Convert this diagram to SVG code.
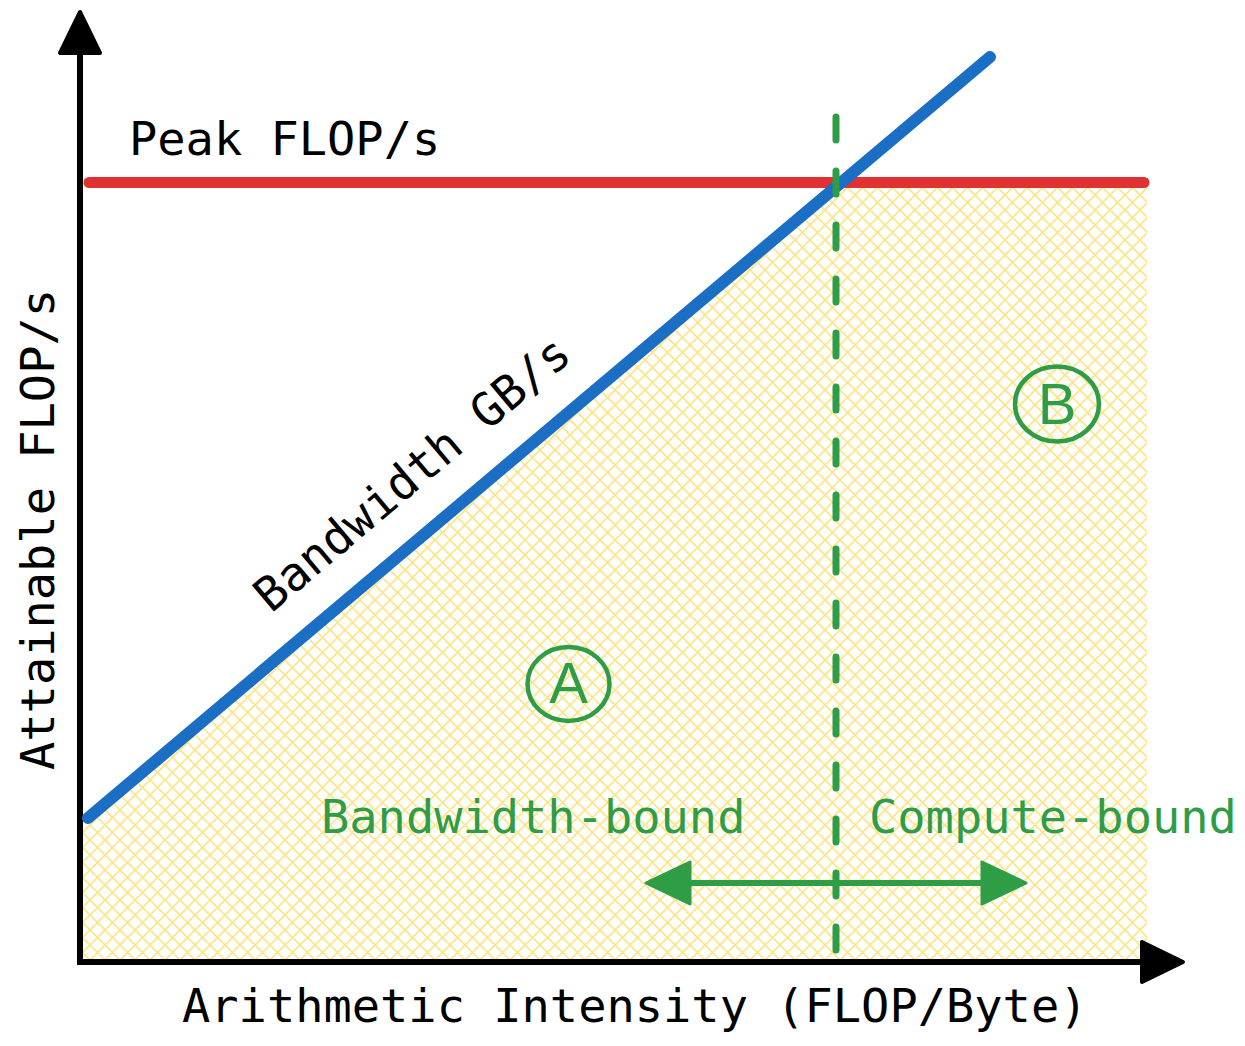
<svg xmlns="http://www.w3.org/2000/svg" width="1245" height="1046" viewBox="0 0 1245 1046">
<style>
.mono{font-family:"DejaVu Sans Mono","Liberation Mono",monospace;font-size:47px}
.blk{fill:#000}
.grn{fill:#2F9D45}
.circ{fill:none;stroke:#2F9D45;stroke-width:4.5}
.letter{font-family:"Liberation Sans","Noto Sans",sans-serif;font-size:58px;fill:#2F9D45;text-anchor:middle}
.axis{stroke:#000;stroke-width:6;fill:none}
.head{fill:#000;stroke:#000;stroke-width:4;stroke-linejoin:round}
.ghead{fill:#2F9D45;stroke:#2F9D45;stroke-width:3;stroke-linejoin:round}
</style>
<defs>
<pattern id="hatch" patternUnits="userSpaceOnUse" width="15" height="15">
<path d="M-2,-2 L17,17 M17,-2 L-2,17" stroke="#FCE58A" stroke-width="1.7" fill="none"/>
</pattern>
</defs>
<rect width="1245" height="1046" fill="#fff"/>
<g id="region">
<polygon points="83,822 840,183 1147,183 1147,960 83,960" fill="url(#hatch)"/>
</g>
<g id="connectors">
<g id="y-axis">
<line class="axis" x1="80" y1="962" x2="80" y2="50"/>
<polygon class="head" points="80,12 60,53 100,53"/>
</g>
<g id="x-axis">
<line class="axis" x1="77" y1="962" x2="1145" y2="962"/>
<polygon class="head" points="1183,962 1142,942 1142,982"/>
</g>
<line id="peak" x1="89" y1="182.5" x2="1144" y2="182.5" stroke="#E03232" stroke-width="11" stroke-linecap="round"/>
<line id="bandwidth" x1="88" y1="818" x2="990" y2="57" stroke="#1A6FC4" stroke-width="12" stroke-linecap="round"/>
<line id="ridge" x1="836" y1="117" x2="836" y2="950" stroke="#2F9D45" stroke-width="7" stroke-dasharray="23 31" stroke-linecap="round"/>
<g id="double-arrow">
<line x1="688" y1="883" x2="984" y2="883" stroke="#2F9D45" stroke-width="6"/>
<polygon class="ghead" points="646,883 690,862 690,904"/>
<polygon class="ghead" points="1026,883 982,862 982,904"/>
</g>
</g>
<g id="label-peak"><text class="mono blk" x="129" y="155">Peak FLOP/s</text></g>
<g id="label-bandwidth"><text class="mono blk" transform="translate(271,614) rotate(-40.15)">Bandwidth GB/s</text></g>
<g id="label-y"><text class="mono blk" transform="translate(54,770) rotate(-90)">Attainable FLOP/s</text></g>
<g id="label-x"><text class="mono blk" x="182" y="1022">Arithmetic Intensity (FLOP/Byte)</text></g>
<g id="label-bw-bound"><text class="mono grn" x="321" y="833">Bandwidth-bound</text></g>
<g id="label-compute-bound"><text class="mono grn" x="869" y="833">Compute-bound</text></g>
<g id="node-A">
<ellipse class="circ" cx="568.5" cy="684" rx="41" ry="37"/>
<text class="letter" x="568.5" y="703">A</text>
</g>
<g id="node-B">
<ellipse class="circ" cx="1057" cy="404" rx="42" ry="37.5"/>
<text class="letter" x="1057" y="424">B</text>
</g>
</svg>
